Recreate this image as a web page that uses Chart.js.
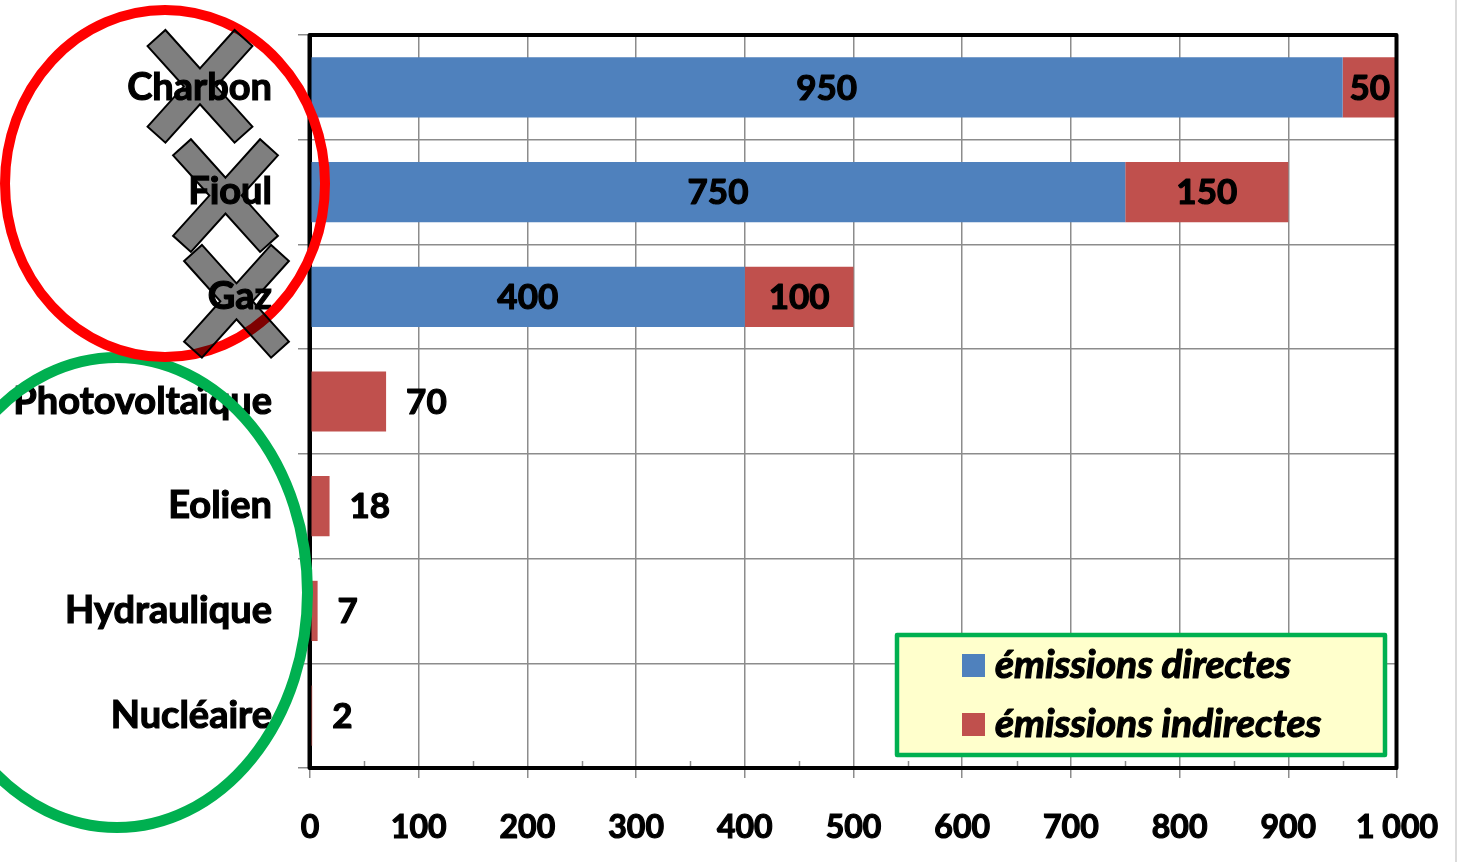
<!DOCTYPE html>
<html lang="fr">
<head>
<meta charset="utf-8">
<title>Émissions de CO2 par filière</title>
<script src="https://cdn.jsdelivr.net/npm/chart.js@4.4.1/dist/chart.umd.min.js"></script>
<style>
  html, body { margin: 0; padding: 0; background: #ffffff; }
  #wrap { width: 1461px; height: 862px; }
  canvas { display: block; }
</style>
</head>
<body>
<div id="wrap"><canvas id="chart" width="1461" height="862"></canvas></div>
<script>
// Filières de production d'électricité
const categories = ['Charbon', 'Fioul', 'Gaz', 'Photovoltaïque', 'Eolien', 'Hydraulique', 'Nucléaire'];
// Émissions directes et indirectes (g CO2 / kWh)
const directEmissions = [950, 750, 400, 0, 0, 0, 0];
const indirectEmissions = [50, 150, 100, 70, 18, 7, 2];
const seriesNames = ['émissions directes', 'émissions indirectes'];
const seriesColors = ['#4F81BD', '#C0504D'];
// Graduations de l'axe des valeurs
const axisMin = 0;
const axisMax = 1000;
const axisStep = 100;

const FONT = 'Lato, "Open Sans", "DejaVu Sans", sans-serif';
const TEXT_STROKE = 1.2; // léger contour pour épaissir le gras

function formatFr(v) {
  return String(v).replace(/\B(?=(\d{3})+(?!\d))/g, ' ');
}

function heavyText(ctx, txt, x, y) {
  ctx.lineWidth = TEXT_STROKE;
  ctx.strokeStyle = ctx.fillStyle;
  ctx.lineJoin = 'round';
  ctx.strokeText(txt, x, y);
  ctx.fillText(txt, x, y);
}

// Cadre noir, graduations secondaires et trait de bordure droit
const framePlugin = {
  id: 'frame',
  afterDraw(chart) {
    const { ctx, chartArea: a, scales } = chart;
    const x = scales.x;
    ctx.save();
    // graduations secondaires (intérieures)
    ctx.strokeStyle = '#8c8c8c';
    ctx.lineWidth = 1.5;
    for (let v = axisMin + axisStep / 2; v < axisMax; v += axisStep) {
      const px = Math.round(x.getPixelForValue(v)) + 0.5;
      ctx.beginPath();
      ctx.moveTo(px, a.bottom - 7);
      ctx.lineTo(px, a.bottom);
      ctx.stroke();
    }
    // cadre de la zone de traçage
    ctx.strokeStyle = '#000000';
    ctx.lineWidth = 4;
    ctx.lineJoin = 'round';
    ctx.strokeRect(a.left - 0.5, a.top, a.right - a.left, a.bottom - a.top);
    // filet vertical en bord droit
    ctx.strokeStyle = '#cfcfcf';
    ctx.lineWidth = 1.5;
    ctx.beginPath();
    ctx.moveTo(chart.width - 5, 0);
    ctx.lineTo(chart.width - 5, chart.height);
    ctx.stroke();
    ctx.restore();
  }
};

// Étiquettes de valeurs
const valueLabelPlugin = {
  id: 'valueLabels',
  afterDatasetsDraw(chart) {
    const { ctx } = chart;
    ctx.save();
    ctx.font = 'bold 35px ' + FONT;
    ctx.fillStyle = '#000000';
    ctx.textBaseline = 'middle';
    chart.data.datasets.forEach((ds, di) => {
      const meta = chart.getDatasetMeta(di);
      meta.data.forEach((bar, i) => {
        const v = ds.data[i];
        if (!v) return;
        const otherStacked = chart.data.datasets.some((o, oi) => oi !== di && o.data[i] > 0);
        if (otherStacked) {
          ctx.textAlign = 'center';
          heavyText(ctx, formatFr(v), (bar.x + bar.base) / 2, bar.y + 1);
        } else {
          ctx.textAlign = 'left';
          heavyText(ctx, formatFr(v), bar.x + 20, bar.y + 1);
        }
      });
    });
    ctx.restore();
  }
};

// Légende encadrée dans la zone de traçage
const boxedLegendPlugin = {
  id: 'boxedLegend',
  afterDraw(chart) {
    const { ctx, chartArea: a } = chart;
    const w = 488, h = 120;
    const right = a.right - 12, bottom = a.bottom - 13;
    const left = right - w, top = bottom - h;
    ctx.save();
    ctx.fillStyle = '#FFFFCC';
    ctx.fillRect(left, top, w, h);
    ctx.strokeStyle = '#00B050';
    ctx.lineWidth = 4.5;
    ctx.lineJoin = 'round';
    ctx.strokeRect(left, top, w, h);
    ctx.font = 'italic bold 39px ' + FONT;
    ctx.textBaseline = 'middle';
    ctx.textAlign = 'left';
    chart.data.datasets.forEach((ds, i) => {
      const cy = top + 30.5 + i * 59;
      ctx.fillStyle = ds.backgroundColor;
      ctx.fillRect(left + 65, cy - 11.5, 23, 23);
      ctx.fillStyle = '#000000';
      heavyText(ctx, ds.label, left + 98, cy);
    });
    ctx.restore();
  }
};

// Annotations : croix sur les filières fossiles, cercles de regroupement
const annotationPlugin = {
  id: 'groupMarks',
  afterDraw(chart) {
    const { ctx } = chart;
    const y = chart.scales.y;
    ctx.save();
    // ellipse verte (filières bas carbone)
    ctx.strokeStyle = '#00B050';
    ctx.lineWidth = 11;
    ctx.beginPath();
    ctx.ellipse(117, 592.5, 190.5, 235, 0, 0, Math.PI * 2);
    ctx.stroke();
    // cercle rouge (filières fossiles)
    ctx.strokeStyle = '#FF0000';
    ctx.lineWidth = 10;
    ctx.beginPath();
    ctx.ellipse(165, 183.5, 160, 173.5, 0, 0, Math.PI * 2);
    ctx.stroke();
    // croix semi-transparentes
    const crosses = [
      { cx: 200, dy: -1 },
      { cx: 225.5, dy: 3.5 },
      { cx: 236.5, dy: 4.5 }
    ];
    const ang = 48 * Math.PI / 180, c = Math.cos(ang), s = Math.sin(ang);
    const l = 65, hh = 12;
    crosses.forEach((cr, i) => {
      const cx = cr.cx, cy = y.getPixelForValue(i) + cr.dy;
      const pts = [
        [0, -hh / c],
        [l * c - hh * s, -l * s - hh * c],
        [l * c + hh * s, -l * s + hh * c],
        [hh / s, 0],
        [l * c + hh * s, l * s - hh * c],
        [l * c - hh * s, l * s + hh * c],
        [0, hh / c],
        [-l * c + hh * s, l * s + hh * c],
        [-l * c - hh * s, l * s - hh * c],
        [-hh / s, 0],
        [-l * c - hh * s, -l * s + hh * c],
        [-l * c + hh * s, -l * s - hh * c]
      ];
      ctx.beginPath();
      pts.forEach((p, k) => {
        if (k === 0) ctx.moveTo(cx + p[0], cy + p[1]);
        else ctx.lineTo(cx + p[0], cy + p[1]);
      });
      ctx.closePath();
      ctx.fillStyle = 'rgba(0,0,0,0.5)';
      ctx.fill();
      ctx.strokeStyle = '#000000';
      ctx.lineWidth = 2;
      ctx.lineJoin = 'miter';
      ctx.stroke();
    });
    ctx.restore();
  }
};

new Chart(document.getElementById('chart'), {
  type: 'bar',
  data: {
    labels: categories,
    datasets: [
      { label: seriesNames[0], data: directEmissions, backgroundColor: seriesColors[0], borderWidth: 0 },
      { label: seriesNames[1], data: indirectEmissions, backgroundColor: seriesColors[1], borderWidth: 0 }
    ]
  },
  options: {
    indexAxis: 'y',
    responsive: false,
    animation: false,
    devicePixelRatio: 1,
    categoryPercentage: 1,
    barPercentage: 0.575,
    layout: { padding: { top: 35, right: 64, bottom: 0, left: 0 } },
    plugins: {
      legend: { display: false },
      tooltip: { enabled: false }
    },
    scales: {
      x: {
        stacked: true,
        min: axisMin,
        max: axisMax,
        afterFit(scale) {
          scale.height = 94;
          scale.paddingLeft = 0;
          scale.paddingRight = 0;
        },
        ticks: {
          stepSize: axisStep,
          color: '#000000',
          textStrokeColor: '#000000',
          textStrokeWidth: TEXT_STROKE,
          padding: 30,
          maxRotation: 0,
          font: { family: FONT, size: 32, weight: 'bold' },
          callback: (v) => formatFr(v)
        },
        grid: { color: '#8c8c8c', lineWidth: 1.5, tickLength: 10 },
        border: { display: true, color: '#000000', width: 3 }
      },
      y: {
        stacked: true,
        afterFit(scale) {
          scale.width = 310;
          scale.paddingTop = 0;
          scale.paddingBottom = 0;
        },
        ticks: {
          color: '#000000',
          textStrokeColor: '#000000',
          textStrokeWidth: TEXT_STROKE,
          padding: 26,
          font: { family: FONT, size: 38, weight: 'bold' }
        },
        grid: { color: '#8c8c8c', lineWidth: 1.5, tickLength: 12, offset: true },
        border: { display: true, color: '#000000', width: 3 }
      }
    }
  },
  plugins: [valueLabelPlugin, framePlugin, boxedLegendPlugin, annotationPlugin]
});
</script>
</body>
</html>
